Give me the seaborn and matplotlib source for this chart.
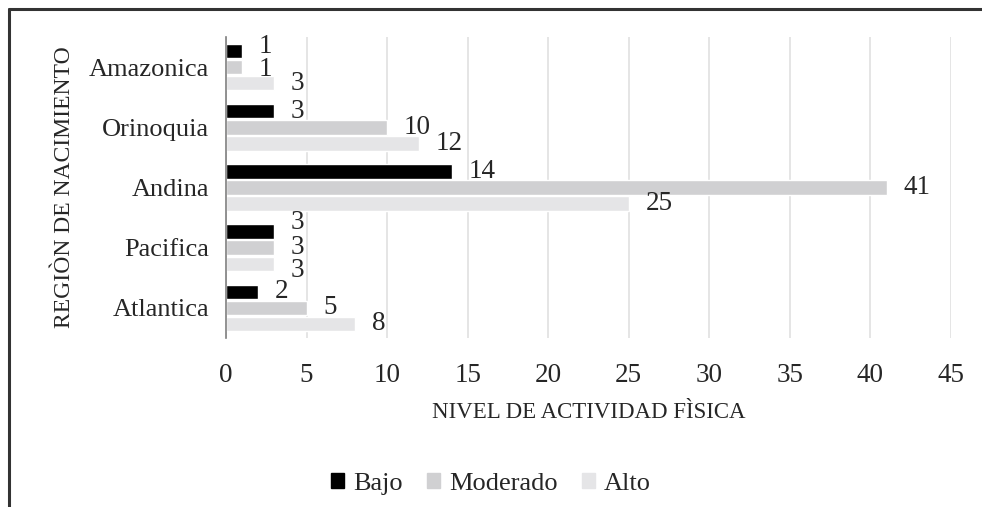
import numpy as np
import pandas as pd
import matplotlib
matplotlib.use('Agg')
import matplotlib.pyplot as plt
import seaborn as sns
from matplotlib.lines import Line2D

# Datos
regiones = ['Amazonica', 'Orinoquia', 'Andina', 'Pacifica', 'Atlantica']
niveles = ['Bajo', 'Moderado', 'Alto']
bajo = [1, 3, 14, 3, 2]
moderado = [1, 10, 41, 3, 5]
alto = [3, 12, 25, 3, 8]

colores = {'Bajo': '#000000', 'Moderado': '#d0d0d2', 'Alto': '#e5e5e7'}

df = pd.DataFrame({
    'Region': regiones * 3,
    'Nivel': ['Bajo'] * 5 + ['Moderado'] * 5 + ['Alto'] * 5,
    'Valor': bajo + moderado + alto,
})

sns.set_style('white')
plt.rcParams['font.family'] = ['Liberation Serif', 'DejaVu Serif']

fig = plt.figure(figsize=(9.82, 5.07), dpi=100)
ax = fig.add_axes([0.2301, 0.3333, 0.7383, 0.5937])

sns.barplot(data=df, y='Region', x='Valor', hue='Nivel', order=regiones,
            hue_order=niveles, palette=colores, orient='h', width=0.8,
            gap=0.1, saturation=1, ax=ax, legend=False)

# desplazamiento vertical (pt) de etiquetas que se solapan, como en Excel
ajuste = {('Bajo', 'Amazonica'): 3, ('Moderado', 'Amazonica'): -1.5,
          ('Bajo', 'Pacifica'): 6.5, ('Alto', 'Pacifica'): -5}
for nivel, cont in zip(niveles, ax.containers):
    etiquetas = ax.bar_label(cont, padding=12, fontsize=19.5)
    for reg, t in zip(regiones, etiquetas):
        dy = ajuste.get((nivel, reg), 0)
        if dy:
            t.xyann = (12, dy)

ax.set_xlim(0, 45)
ax.set_xticks(range(0, 46, 5))
ax.xaxis.grid(True, color='#e0e0e0', linewidth=1.2)
ax.set_axisbelow(True)
for s in ['top', 'right', 'bottom']:
    ax.spines[s].set_visible(False)
ax.spines['left'].set_color('#7f7f7f')
ax.spines['left'].set_linewidth(1.2)
ax.tick_params(axis='x', length=0, labelsize=19.5, pad=18)
ax.tick_params(axis='y', length=0, labelsize=19, pad=12)

ax.set_xlabel('NIVEL DE ACTIVIDAD FÌSICA', fontsize=16.5, labelpad=10)
ax.set_ylabel('REGIÒN DE NACIMIENTO', fontsize=17, labelpad=10)

handles = [plt.Rectangle((0, 0), 1, 1, color=colores[n]) for n in niveles]
fig.legend(handles, niveles, loc='center', bbox_to_anchor=(0.5, 0.045),
           ncol=3, frameon=False, fontsize=19, handlelength=0.5,
           handleheight=0.5, handletextpad=0.35, columnspacing=0.9)

# Marco
fig.add_artist(Line2D([0.0088, 1.0], [0.9815, 0.9815], color='#333333', lw=2.2))
fig.add_artist(Line2D([0.0088, 0.0088], [0.0, 0.9815], color='#333333', lw=2.2))

fig.savefig('out.png', dpi=100, facecolor='white')
